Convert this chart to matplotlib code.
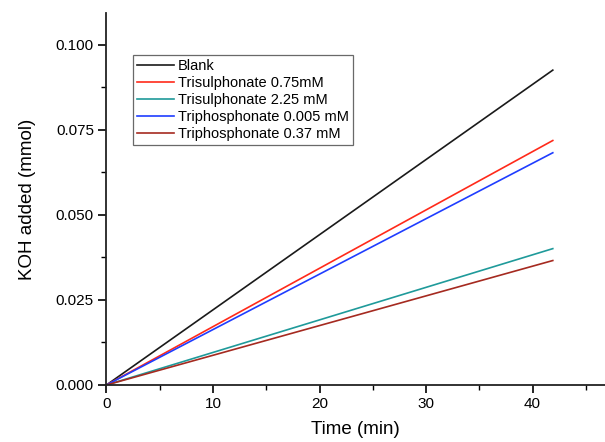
import matplotlib
matplotlib.use('Agg')
import matplotlib.pyplot as plt
from matplotlib.ticker import MultipleLocator

plt.rcParams['font.family'] = ['Liberation Sans', 'DejaVu Sans']

# --- data ---
time_min = [0, 41.9]
labels = ['Blank', 'Trisulphonate 0.75mM', 'Trisulphonate 2.25 mM',
          'Triphosphonate 0.005 mM', 'Triphosphonate 0.37 mM']
blank = [0, 0.0926]
trisulph_075 = [0, 0.0719]
trisulph_225 = [0, 0.0401]
triphos_0005 = [0, 0.0683]
triphos_037 = [0, 0.0366]
colors = ['#1a1a1a', '#ff2a1a', '#1f9a9a', '#1f3dff', '#a52a20']

fig = plt.figure(figsize=(6.05, 4.42), dpi=100)
ax = fig.add_axes([0.176, 0.129, 1.0 - 0.176, 0.9706 - 0.129])

for y, lab, c in zip([blank, trisulph_075, trisulph_225, triphos_0005, triphos_037], labels, colors):
    ax.plot(time_min, y, color=c, lw=1.2, label=lab)

ax.set_xlim(0, 46.8)
ax.set_ylim(0, 0.1094)
ax.xaxis.set_major_locator(MultipleLocator(10))
ax.xaxis.set_minor_locator(MultipleLocator(5))
ax.yaxis.set_major_locator(MultipleLocator(0.025))
ax.yaxis.set_minor_locator(MultipleLocator(0.0125))
ax.yaxis.set_major_formatter(plt.FormatStrFormatter('%.3f'))

for s in ['top', 'right']:
    ax.spines[s].set_visible(False)
for s in ['left', 'bottom']:
    ax.spines[s].set_linewidth(1.3)
    ax.spines[s].set_color('#222222')
ax.tick_params(which='major', direction='out', length=6, width=1.2, labelsize=11, pad=3)
ax.tick_params(which='minor', direction='out', length=3.5, width=1.0)

ax.set_xlabel('Time (min)', fontsize=13.5, labelpad=7)
ax.set_ylabel('KOH added (mmol)', fontsize=13.5, labelpad=14)

leg = ax.legend(loc='upper left', bbox_to_anchor=(0.053, 0.887), borderaxespad=0,
                fontsize=10.5, frameon=True, fancybox=False, handlelength=2.5,
                handletextpad=0.3, labelspacing=0.2, borderpad=0.3)
leg.get_frame().set_edgecolor('#444444')
leg.get_frame().set_linewidth(0.9)

fig.savefig('out.png', dpi=100)
